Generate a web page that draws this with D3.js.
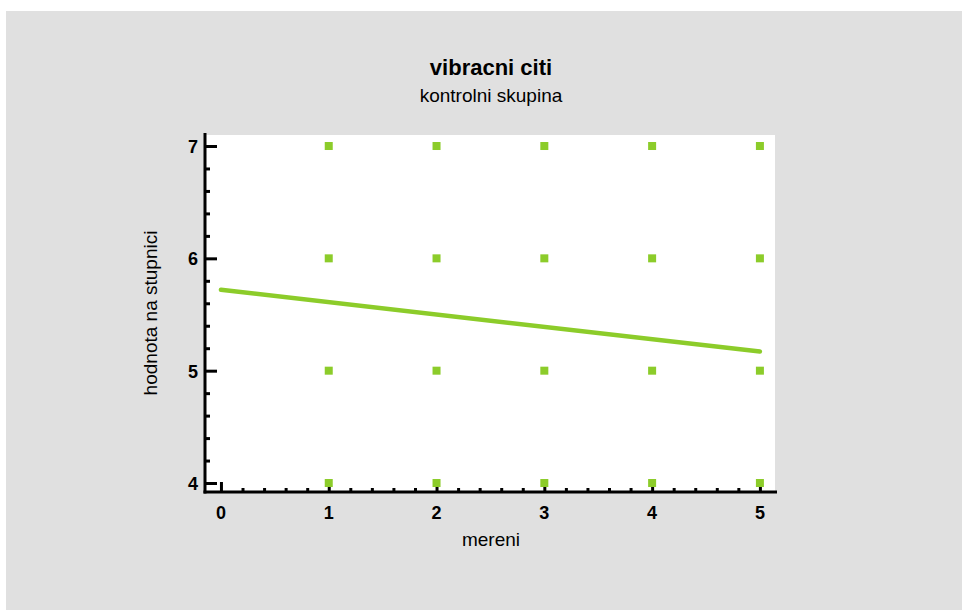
<!DOCTYPE html>
<html>
<head>
<meta charset="utf-8">
<script src="https://cdn.jsdelivr.net/npm/d3@7"></script>
<style>
  body { margin: 0; background: #fff; }
  text { font-family: Arial, "Liberation Sans", sans-serif; }
</style>
</head>
<body>
<div id="chart"></div>
<script>
// measurements (x) and scale values (y) of the points
var pointX = [1, 2, 3, 4, 5, 1, 2, 3, 4, 5, 1, 2, 3, 4, 5, 1, 2, 3, 4, 5];
var pointY = [7, 7, 7, 7, 7, 6, 6, 6, 6, 6, 5, 5, 5, 5, 5, 4, 4, 4, 4, 4];

// regression line ends
var lineX = [0, 5];
var lineY = [5.72, 5.17];

var xTicks = [0, 1, 2, 3, 4, 5];
var yTicks = [4, 5, 6, 7];

var svgWidth = 963, svgHeight = 610;
var margin = {top: 135, right: 188, bottom: 118, left: 205};
var chartWidth = svgWidth - margin.left - margin.right;
var chartHeight = svgHeight - margin.top - margin.bottom;

var svg = d3.select("#chart").append("svg")
    .attr("width", svgWidth)
    .attr("height", svgHeight);

// gray background panel
svg.append("rect")
    .attr("x", 6).attr("y", 11)
    .attr("width", svgWidth - 7).attr("height", svgHeight - 11)
    .attr("fill", "#e0e0e0");

var g = svg.append("g")
    .attr("transform", `translate(${margin.left}, ${margin.top})`);

g.append("rect")
    .attr("width", chartWidth).attr("height", chartHeight)
    .attr("fill", "#fff");

var xSc = d3.scaleLinear().domain([-0.148, 5.14]).range([0, chartWidth]);
var ySc = d3.scaleLinear().domain([3.92, 7.098]).range([chartHeight, 0]);

// minor ticks
var xMinor = d3.range(0, 5.01, 0.2).filter(v => Math.abs(v - Math.round(v)) > 0.01);
var yMinor = d3.range(3.8, 7.11, 0.2).filter(v => Math.abs(v - Math.round(v)) > 0.01 && v >= 3.92);

var xAxisMajor = d3.axisTop(xSc).tickValues(xTicks).tickSize(10).tickFormat("");
var xAxisMinor = d3.axisTop(xSc).tickValues(xMinor).tickSize(4).tickFormat("");
var yAxisMajor = d3.axisRight(ySc).tickValues(yTicks).tickSize(12).tickFormat("");
var yAxisMinor = d3.axisRight(ySc).tickValues(yMinor).tickSize(5).tickFormat("");

[[xAxisMajor, "x"], [xAxisMinor, "x"], [yAxisMajor, "y"], [yAxisMinor, "y"]].forEach(function(a) {
    var ag = g.append("g")
        .attr("transform", a[1] == "x" ? `translate(0, ${chartHeight})` : "translate(0,0)")
        .call(a[0]);
    ag.select(".domain").remove();
    ag.selectAll("line").attr("stroke", "#000").attr("stroke-width", 3);
});

// axis lines
g.append("line")
    .attr("x1", 0).attr("x2", 0).attr("y1", -2).attr("y2", chartHeight + 1.5)
    .attr("stroke", "#000").attr("stroke-width", 3);
g.append("line")
    .attr("x1", -1.5).attr("x2", chartWidth + 2).attr("y1", chartHeight).attr("y2", chartHeight)
    .attr("stroke", "#000").attr("stroke-width", 3);

// tick labels
g.selectAll(".xl").data(xTicks).enter().append("text")
    .attr("x", d => xSc(d)).attr("y", chartHeight + 27)
    .attr("text-anchor", "middle")
    .attr("font-size", 18).attr("font-weight", "bold")
    .text(d => d);
g.selectAll(".yl").data(yTicks).enter().append("text")
    .attr("x", -7).attr("y", d => ySc(d) + 7)
    .attr("text-anchor", "end")
    .attr("font-size", 18).attr("font-weight", "bold")
    .text(d => d);

// points
var pts = pointX.map((x, i) => ({x: x, y: pointY[i]}));
g.selectAll(".pt").data(pts).enter().append("rect")
    .attr("x", d => xSc(d.x) - 4).attr("y", d => ySc(d.y) - 4)
    .attr("width", 8).attr("height", 8)
    .attr("fill", "#8ccc2a");

// regression line
g.append("path")
    .datum(lineX.map((x, i) => [x, lineY[i]]))
    .attr("d", d3.line().x(d => xSc(d[0])).y(d => ySc(d[1])))
    .attr("fill", "none")
    .attr("stroke", "#8ccc2a")
    .attr("stroke-width", 4.5)
    .attr("stroke-linecap", "round");

// titles
svg.append("text")
    .attr("x", 491).attr("y", 75)
    .attr("text-anchor", "middle")
    .attr("font-size", 22).attr("font-weight", "bold")
    .text("vibracni citi");
svg.append("text")
    .attr("x", 491).attr("y", 102)
    .attr("text-anchor", "middle")
    .attr("font-size", 19)
    .text("kontrolni skupina");
svg.append("text")
    .attr("x", 491).attr("y", 546)
    .attr("text-anchor", "middle")
    .attr("font-size", 19)
    .text("mereni");
svg.append("text")
    .attr("transform", "translate(157, 313) rotate(-90)")
    .attr("text-anchor", "middle")
    .attr("font-size", 19)
    .text("hodnota na stupnici");
</script>
</body>
</html>
